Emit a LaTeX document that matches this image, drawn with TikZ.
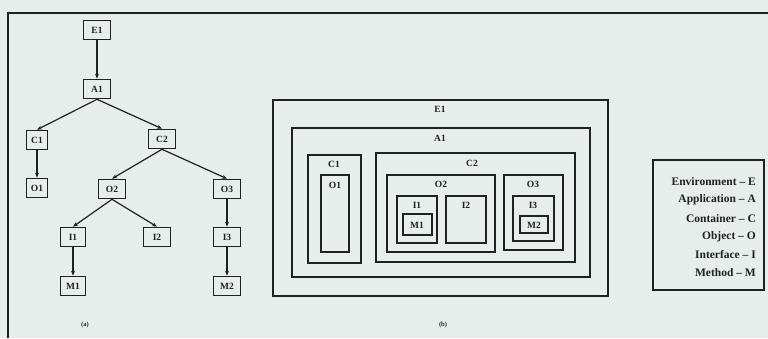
\documentclass[tikz,border=0pt]{standalone}
\usepackage{fontspec}
\setmainfont{Liberation Serif}
\usetikzlibrary{arrows.meta,positioning}
\definecolor{scanPaper}{HTML}{E7EDEB}
\definecolor{scanInk}{HTML}{1E2222}

\begin{document}
\begin{tikzpicture}[
  x=1pt,
  y=-1pt,
  tbox/.style={
    draw=scanInk,
    line width=1.6pt,
    minimum width=27pt,
    minimum height=19pt,
    inner sep=1pt,
    text=scanInk,
    font=\bfseries\fontsize{9.5}{10}\selectfont
  },
  nbox/.style={draw=scanInk,line width=1.3pt},
  mbox/.style={draw=scanInk,line width=1.8pt},
  nlabel/.style={inner sep=0pt,text=scanInk,font=\bfseries\fontsize{9.5}{10}\selectfont},
  legend/.style={anchor=east,inner sep=0pt,text=scanInk,font=\bfseries\fontsize{11.5}{12}\selectfont},
  caption/.style={inner sep=0pt,text=scanInk,font=\bfseries\fontsize{6.5}{7}\selectfont},
  arrow/.style={-{Stealth[length=5pt,width=4pt]},line width=1.2pt,scanInk}
]
  \fill[scanPaper] (0,0) rectangle (768,338);
  \useasboundingbox (0,0) rectangle (768,338);
  \draw[scanInk,line width=1.4pt] (8,338) -- (8,13) -- (768,13);

  \node[tbox] (e1) at (97,30) {E1};
  \node[tbox] (a1) at (97,89) {A1};
  \node[tbox,minimum width=21pt] (c1) at (37,140) {C1};
  \node[tbox] (c2) at (162,139) {C2};
  \node[tbox,minimum width=21pt] (o1) at (37,188) {O1};
  \node[tbox] (o2) at (112,189) {O2};
  \node[tbox] (o3) at (227,189) {O3};
  \node[tbox,minimum width=25pt] (i1) at (73,237) {I1};
  \node[tbox] (i2) at (157,237) {I2};
  \node[tbox] (i3) at (227,237) {I3};
  \node[tbox,minimum width=25pt] (m1) at (73,286) {M1};
  \node[tbox] (m2) at (227,286) {M2};

  \draw[arrow] (e1)--(a1);
  \draw[arrow] (a1.south)--(c1.north);
  \draw[arrow] (a1.south)--(c2.north);
  \draw[arrow] (c1)--(o1);
  \draw[arrow] (c2.south)--(o2.north);
  \draw[arrow] (c2.south)--(o3.north);
  \draw[arrow] (o2.south)--(i1.north);
  \draw[arrow] (o2.south)--(i2.north);
  \draw[arrow] (o3)--(i3);
  \draw[arrow] (i1)--(m1);
  \draw[arrow] (i3)--(m2);
  \node[caption] (capa) at (85,325) {(a)};

  \draw[nbox] (273,100) rectangle (608,296);
  \node[nlabel] (ne1) at (440,109) {E1};
  \draw[nbox] (292,128) rectangle (590,277);
  \node[nlabel] (na1) at (440,138) {A1};
  \draw[nbox] (308,155) rectangle (361,263);
  \node[nlabel] (nc1) at (334,164) {C1};
  \draw[nbox] (321,175) rectangle (349,252);
  \node[nlabel] (no1) at (335,185) {O1};
  \draw[nbox] (376,153) rectangle (575,262);
  \node[nlabel] (nc2) at (472,163) {C2};
  \draw[nbox] (387,175) rectangle (495,252);
  \node[nlabel] (no2) at (441,184) {O2};
  \draw[nbox] (397,196) rectangle (437,243);
  \node[nlabel] (ni1) at (417,205) {I1};
  \draw[mbox] (403,214) rectangle (432,235);
  \node[nlabel] (nm1) at (417,225) {M1};
  \draw[nbox] (446,196) rectangle (486,243);
  \node[nlabel] (ni2) at (466,205) {I2};
  \draw[nbox] (504,175) rectangle (563,250);
  \node[nlabel] (no3) at (533,184) {O3};
  \draw[nbox] (513,196) rectangle (554,241);
  \node[nlabel] (ni3) at (533,205) {I3};
  \draw[mbox] (520,216) rectangle (548,233);
  \node[nlabel] (nm2) at (534,225) {M2};
  \node[caption] (capb) at (443,325) {(b)};

  \draw[nbox] (653,160) rectangle (764,290);
  \node[legend] (lenv) at (756,182) {Environment -- E};
  \node[legend] (lapp) at (756,200) {Application -- A};
  \node[legend] (lcon) at (756,219) {Container -- C};
  \node[legend] (lobj) at (756,237) {Object -- O};
  \node[legend] (lint) at (756,255) {Interface -- I};
  \node[legend] (lmet) at (756,273) {Method -- M};
\end{tikzpicture}
\end{document}
